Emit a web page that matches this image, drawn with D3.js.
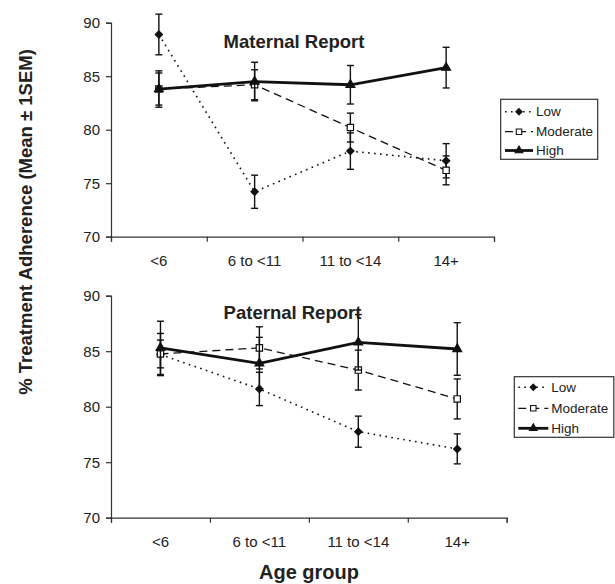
<!DOCTYPE html>
<head>
	<script src="https://d3js.org/d3.v7.min.js"></script>
	<style>
		body { margin: 0; background: #fff; }
		text { font-family: "Liberation Sans", Arial, sans-serif; fill: #222; }
	</style>
</head>
<body>
<svg></svg>
<script>
	// age groups on the x axis
	var ageGroups = ["<6", "6 to <11", "11 to <14", "14+"];
	var yTicks = [70, 75, 80, 85, 90];
	var levels = ["Low", "Moderate", "High"];

	// maternal report: means and SEM
	var matLow = [88.9, 74.2, 78.0, 77.1];
	var matLowSE = [1.9, 1.55, 1.7, 1.6];
	var matMod = [83.8, 84.2, 80.2, 76.2];
	var matModSE = [1.5, 1.4, 1.35, 1.35];
	var matHigh = [83.8, 84.5, 84.2, 85.8];
	var matHighSE = [1.7, 1.8, 1.8, 1.9];

	// paternal report: means and SEM
	var patLow = [84.7, 81.6, 77.75, 76.2];
	var patLowSE = [1.9, 1.5, 1.4, 1.35];
	var patMod = [84.75, 85.3, 83.3, 80.7];
	var patModSE = [1.25, 1.9, 1.8, 1.8];
	var patHigh = [85.3, 83.9, 85.8, 85.2];
	var patHighSE = [2.4, 2.35, 2.5, 2.37];

	var width = 615, height = 584;
	var svg = d3.select("svg").attr("width", width).attr("height", height);

	var styles = {
		Low: { dash: "1.6,4.4", width: 1.6, symbol: d3.symbolDiamond2, size: 34, fill: "#111" },
		Moderate: { dash: "8,5", width: 1.3, symbol: d3.symbolSquare, size: 40, fill: "#fff" },
		High: { dash: null, width: 2.8, symbol: d3.symbolTriangle, size: 34, fill: "#111" }
	};

	function panel(opt) {
		var g = svg.append("g");

		var x = d3.scaleBand().domain(ageGroups).range([opt.x0, opt.x1]);
		var xEdge = d3.scaleLinear().domain([0, ageGroups.length]).range([opt.x0, opt.x1]);
		var y = d3.scaleLinear().domain([70, 90]).range([opt.y1, opt.y0]);
		var cx = function(i) { return x(ageGroups[i]) + x.bandwidth() / 2; };

		// y axis
		var yAxis = d3.axisLeft(y).tickValues(yTicks).tickSize(5).tickPadding(6);
		var ya = g.append("g").attr("transform", "translate(" + opt.x0 + ",0)").call(yAxis);
		ya.select(".domain").attr("stroke", "#333").attr("stroke-width", 1.2);
		ya.selectAll(".tick line").attr("stroke", "#333").attr("stroke-width", 1.2);
		ya.selectAll("text").style("font-size", "15px").attr("fill", "#222");

		// x axis: ticks at the category edges, labels in the middle
		var xa = g.append("g").attr("transform", "translate(0," + opt.y1 + ")")
			.call(d3.axisBottom(xEdge).tickValues(d3.range(ageGroups.length + 1)).tickSize(5).tickFormat(""));
		xa.select(".domain").attr("stroke", "#333").attr("stroke-width", 1.2);
		xa.selectAll(".tick line").attr("stroke", "#333").attr("stroke-width", 1.2);

		g.selectAll(".xlab").data(ageGroups).enter().append("text")
			.attr("x", function(d, i) { return cx(i); })
			.attr("y", opt.labelY)
			.attr("text-anchor", "middle")
			.style("font-size", "15px")
			.text(function(d) { return d; });

		// title
		g.append("text")
			.attr("x", opt.titleX).attr("y", opt.titleY)
			.attr("text-anchor", "middle")
			.style("font-size", "18.5px").style("font-weight", "bold")
			.text(opt.title);

		var line = d3.line().x(function(d, i) { return cx(i); }).y(function(d) { return y(d); });

		opt.series.forEach(function(s) {
			var st = styles[s.name];
			var sg = g.append("g");
			// error bars
			s.values.forEach(function(v, i) {
				var e = s.se[i];
				sg.append("line").attr("x1", cx(i)).attr("x2", cx(i))
					.attr("y1", y(v - e)).attr("y2", y(v + e))
					.attr("stroke", "#111").attr("stroke-width", 1.4);
				[v - e, v + e].forEach(function(w) {
					sg.append("line").attr("x1", cx(i) - 3.5).attr("x2", cx(i) + 3.5)
						.attr("y1", y(w)).attr("y2", y(w))
						.attr("stroke", "#111").attr("stroke-width", 1.4);
				});
			});
			sg.append("path").datum(s.values)
				.attr("d", line)
				.attr("fill", "none")
				.attr("stroke", "#111")
				.attr("stroke-width", st.width)
				.attr("stroke-dasharray", st.dash);
			sg.selectAll(".pt").data(s.values).enter().append("path")
				.attr("transform", function(d, i) { return "translate(" + cx(i) + "," + y(d) + ")"; })
				.attr("d", d3.symbol().type(st.symbol).size(st.size))
				.attr("fill", st.fill)
				.attr("stroke", "#111")
				.attr("stroke-width", 1.2);
		});

		// legend
		var lg = g.append("g");
		lg.append("rect")
			.attr("x", opt.leg[0]).attr("y", opt.leg[1])
			.attr("width", opt.leg[2]).attr("height", opt.leg[3])
			.attr("fill", "#fff").attr("stroke", "#333").attr("stroke-width", 1.2);
		levels.forEach(function(name, i) {
			var st = styles[name];
			var ry = opt.legRows[i];
			lg.append("line")
				.attr("x1", opt.legLine[0]).attr("x2", opt.legLine[1])
				.attr("y1", ry).attr("y2", ry)
				.attr("stroke", "#111").attr("stroke-width", st.width)
				.attr("stroke-dasharray", st.dash);
			lg.append("path")
				.attr("transform", "translate(" + (opt.legLine[0] + opt.legLine[1]) / 2 + "," + ry + ")")
				.attr("d", d3.symbol().type(st.symbol).size(st.size * 0.75))
				.attr("fill", st.fill).attr("stroke", "#111").attr("stroke-width", 1.1);
			lg.append("text")
				.attr("x", opt.legLine[1] + 3).attr("y", ry).attr("dy", "0.35em")
				.style("font-size", "13.5px")
				.text(name);
		});
	}

	panel({
		x0: 111, x1: 494, y0: 22.7, y1: 236.7, labelY: 266,
		title: "Maternal Report", titleX: 294, titleY: 47.5,
		leg: [500.7, 99.3, 97, 60], legRows: [111.7, 131.7, 150.5], legLine: [505, 533],
		series: [
			{ name: "Low", values: matLow, se: matLowSE },
			{ name: "Moderate", values: matMod, se: matModSE },
			{ name: "High", values: matHigh, se: matHighSE }
		]
	});

	panel({
		x0: 111, x1: 506.7, y0: 295.7, y1: 517.7, labelY: 546.5,
		title: "Paternal Report", titleX: 292.5, titleY: 319.3,
		leg: [514.3, 376.7, 99.5, 60.6], legRows: [387.3, 408.3, 428.3], legLine: [518.3, 548.3],
		series: [
			{ name: "Low", values: patLow, se: patLowSE },
			{ name: "Moderate", values: patMod, se: patModSE },
			{ name: "High", values: patHigh, se: patHighSE }
		]
	});

	// shared axis titles
	svg.append("text")
		.attr("transform", "translate(32,222) rotate(-90)")
		.attr("text-anchor", "middle")
		.style("font-size", "18.5px").style("font-weight", "bold")
		.text("% Treatment Adherence (Mean \u00b1 1SEM)");

	svg.append("text")
		.attr("x", 309).attr("y", 579)
		.attr("text-anchor", "middle")
		.style("font-size", "20px").style("font-weight", "bold")
		.text("Age group");
</script>
</body>
</html>
